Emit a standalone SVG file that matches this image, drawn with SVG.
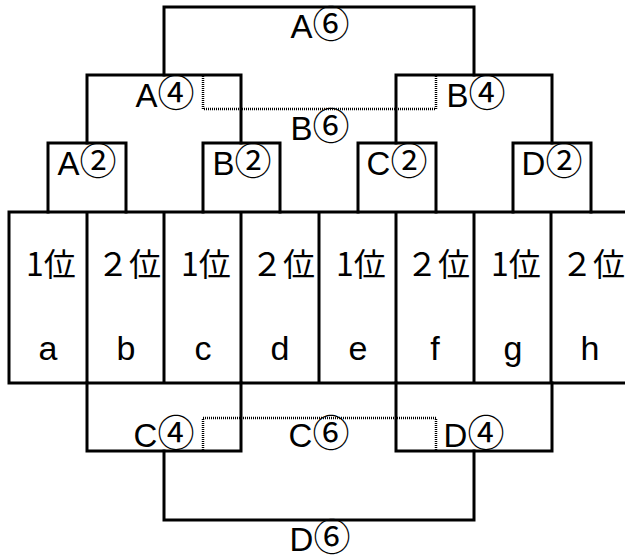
<svg xmlns="http://www.w3.org/2000/svg" width="625" height="556" viewBox="0 0 625 556">
<style>
.ln{fill:none;stroke:#000;stroke-width:3;stroke-linejoin:miter;stroke-linecap:square}
.dot{fill:none;stroke:#000;stroke-width:2.5;stroke-dasharray:1 1}
.lb{font-family:"Liberation Sans","Noto Sans CJK JP",sans-serif;font-size:33px;text-anchor:middle;fill:#000}
.ci{font-family:"Noto Sans CJK JP",sans-serif;font-size:37px}
.rk{font-family:"Noto Sans CJK JP",sans-serif;font-size:32px;text-anchor:middle;fill:#000}
.tm{font-family:"Liberation Sans","Noto Sans CJK JP",sans-serif;font-size:34px;text-anchor:middle;fill:#000}
</style>
<rect width="625" height="556" fill="#fff"/>
<g id="table">
<path class="ln" d="M9,212 H626 M9,383 H626 M9,212 V383 M87,212 V383 M164,212 V383 M241,212 V383 M319,212 V383 M396,212 V383 M474,212 V383 M551,212 V383"/>
</g>
<g id="col-a"><text class="rk" x="51" y="276">1位</text><text class="tm" x="48" y="360">a</text></g>
<g id="col-b"><text class="rk" x="129" y="276">２位</text><text class="tm" x="126" y="360">b</text></g>
<g id="col-c"><text class="rk" x="206" y="276">1位</text><text class="tm" x="203" y="360">c</text></g>
<g id="col-d"><text class="rk" x="283" y="276">２位</text><text class="tm" x="280" y="360">d</text></g>
<g id="col-e"><text class="rk" x="361" y="276">1位</text><text class="tm" x="358" y="360">e</text></g>
<g id="col-f"><text class="rk" x="438" y="276">２位</text><text class="tm" x="435" y="360">f</text></g>
<g id="col-g"><text class="rk" x="516" y="276">1位</text><text class="tm" x="513" y="360">g</text></g>
<g id="col-h"><text class="rk" x="593" y="276">２位</text><text class="tm" x="590" y="360">h</text></g>
<g id="A2"><path class="ln" d="M48,212 V143 H126 V212"/><text class="lb" x="87" y="175">A<tspan class="ci">②</tspan></text></g>
<g id="B2"><path class="ln" d="M203,212 V143 H280 V212"/><text class="lb" x="242" y="175">B<tspan class="ci">②</tspan></text></g>
<g id="C2"><path class="ln" d="M358,212 V143 H436 V212"/><text class="lb" x="397" y="175">C<tspan class="ci">②</tspan></text></g>
<g id="D2"><path class="ln" d="M513,212 V143 H591 V212"/><text class="lb" x="552" y="175">D<tspan class="ci">②</tspan></text></g>
<g id="connectors">
<path class="ln" d="M87,143 V75 H241 V143"/>
<path class="ln" d="M396,143 V75 H552 V143"/>
<path class="ln" d="M164,75 V7 H474 V75"/>
<path class="dot" d="M203,76 V109 H436 V76"/>
<path class="ln" d="M87,383 V451 H241 V383"/>
<path class="ln" d="M396,383 V451 H552 V383"/>
<path class="ln" d="M164,451 V520 H474 V451"/>
<path class="dot" d="M203,450 V418 H436 V450"/>
</g>
<g id="A4"><text class="lb" x="165" y="107">A<tspan class="ci">④</tspan></text></g>
<g id="B4"><text class="lb" x="476" y="107">B<tspan class="ci">④</tspan></text></g>
<g id="A6"><text class="lb" x="320" y="38">A<tspan class="ci">⑥</tspan></text></g>
<g id="B6"><text class="lb" x="320" y="140">B<tspan class="ci">⑥</tspan></text></g>
<g id="C4"><text class="lb" x="164" y="447">C<tspan class="ci">④</tspan></text></g>
<g id="C6"><text class="lb" x="319" y="447">C<tspan class="ci">⑥</tspan></text></g>
<g id="D4"><text class="lb" x="474" y="447">D<tspan class="ci">④</tspan></text></g>
<g id="D6"><text class="lb" x="320" y="551">D<tspan class="ci">⑥</tspan></text></g>
</svg>
